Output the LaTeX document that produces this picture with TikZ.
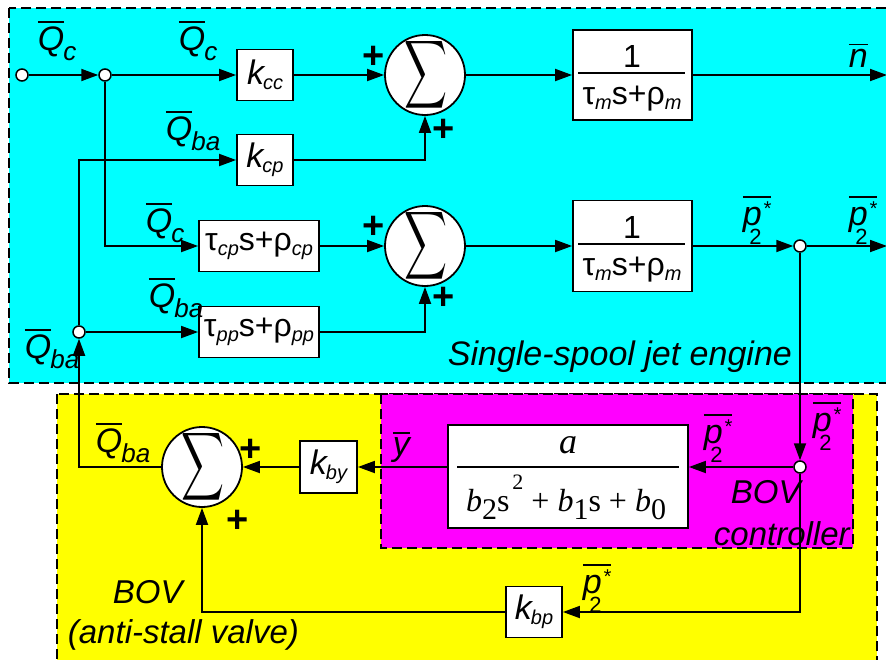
\documentclass[tikz,border=0pt]{standalone}
\usepackage{fontspec}
\setmainfont{Liberation Sans}
\newfontfamily\tnr{Liberation Serif}
\usetikzlibrary{arrows.meta}
\definecolor{cyanc}{RGB}{0,255,255}
\definecolor{yellowc}{RGB}{255,255,0}
\definecolor{magc}{RGB}{255,0,255}
\newcommand\szL{\fontsize{34}{36}\selectfont}
\newcommand\szT{\fontsize{32}{34}\selectfont}
\newcommand\szS{\fontsize{20}{22}\selectfont}
\newcommand\szQ{\fontsize{26}{28}\selectfont}
\newcommand\ovl[1]{\leavevmode\vbox{\hrule height 1.4pt\kern 3.5pt\hbox{#1}}}
\newcommand\Qs[1]{\ovl{Q}\kern-1pt\raisebox{-10pt}{\szQ #1}}
\newcommand\Ps{\ovl{p\kern1pt\raisebox{10pt}{\fontsize{20}{20}\selectfont *}}\llap{\raisebox{-19pt}{\upshape\fontsize{22}{22}\selectfont 2}\kern9pt}}
\newcommand\ksub[2]{\textit{#1\kern-1pt\raisebox{-5pt}{\szS #2}}}
\newcommand\tsub[1]{\raisebox{-5pt}{\szS\itshape #1}}
\newcommand\dsub[1]{\raisebox{-8pt}{\upshape\fontsize{30}{30}\selectfont #1}}
\newcommand\bigsum{\resizebox{43pt}{50pt}{$\displaystyle\sum$}}
\begin{document}
\begin{tikzpicture}[x=1pt,y=-1pt,line width=1.8pt,
  >={Triangle[length=17pt,width=12pt]},
  box/.style={draw,fill=white,minimum width=56pt,minimum height=51pt,inner sep=0pt,font=\szL},
  jn/.style={circle,draw,fill=white,minimum size=12pt,inner sep=0pt,line width=1.5pt},
  sumc/.style={circle,draw,fill=white,minimum size=80pt,inner sep=0pt},
  sig/.style={inner sep=0pt},
  lab/.style={inner sep=0pt,font=\szL\itshape,anchor=base west},
  txt/.style={inner sep=0pt,font=\fontsize{33}{35}\selectfont\itshape,anchor=base west},
  plus/.style={inner sep=0pt,font=\fontsize{38}{38}\selectfont\bfseries},
  frac/.style={inner sep=0pt,anchor=base},
  region/.style={draw,dash pattern=on 10pt off 5pt,line width=1.8pt},
  bar/.style={line width=1.6pt}]
\useasboundingbox (0,0) rectangle (886,659);
% regions
\path[region,fill=cyanc] (9,8) rectangle (905,383);
\path[region,fill=yellowc] (57,394) rectangle (877,675);
\path[region,fill=magc] (381,394) rectangle (853,548);
% row 1
\node[jn] (in) at (22,75) {};
\node[jn] (j1) at (105,75) {};
\node[box] (kcc) at (265,75) {\ksub{k}{cc}};
\node[sumc] (s1) at (425,75) {};
\node[sig] (s1g) at ([xshift=1pt]s1.center) {\bigsum};
\node[box,minimum width=119pt,minimum height=90pt] (tf1) at (632.5,75) {};
\draw[bar] (578,73) -- (685,73);
\node[frac,font=\szT] (tf1n) at (632,67) {1};
\node[frac,font=\szT] (tf1d) at (632,104) {τ\tsub{m}s+ρ\tsub{m}};
\coordinate (nout) at (887,75);
% k_cp row
\node[box] (kcp) at (265,160) {\ksub{k}{cp}};
% row 2
\node[box,minimum width=120pt] (cp) at (259,246) {\szT τ\tsub{cp}s+ρ\tsub{cp}};
\node[sumc] (s2) at (425,246) {};
\node[sig] (s2g) at ([xshift=1pt]s2.center) {\bigsum};
\node[box,minimum width=119pt,minimum height=91pt] (tf2) at (632.5,246) {};
\draw[bar] (578,244) -- (685,244);
\node[frac,font=\szT] (tf2n) at (632,238) {1};
\node[frac,font=\szT] (tf2d) at (632,275) {τ\tsub{m}s+ρ\tsub{m}};
\node[jn] (j2) at (800,246) {};
\coordinate (pout) at (887,246);
% row 3
\node[jn] (j3) at (79,332) {};
\node[box,minimum width=120pt] (pp) at (259,332) {\szT τ\tsub{pp}s+ρ\tsub{pp}};
% bottom
\node[jn] (jc) at (800,467) {};
\node[box,minimum width=240pt,minimum height=103pt] (tf3) at (568,476.5) {};
\draw[bar] (457,467) -- (679,467);
\node[frac,font=\tnr\fontsize{36}{38}\selectfont\itshape] (tf3n) at (568,453) {a};
\node[frac,font=\tnr\fontsize{32}{34}\selectfont] (tf3d) at (566,511) {\textit{b}\dsub{2}s\kern3pt\raisebox{22pt}{\fontsize{22}{22}\selectfont 2} + \textit{b}\dsub{1}s + \textit{b}\dsub{0}};
\node[box,minimum width=57pt,minimum height=52pt] (kby) at (328.5,467) {\ksub{k}{by}};
\node[sumc] (s3) at (202,467) {};
\node[sig] (s3g) at ([xshift=1pt]s3.center) {\bigsum};
\node[box] (kbp) at (534,612) {\ksub{k}{bp}};
% connectors
\draw[->] (in) -- (j1);
\draw[->] (j1) -- (kcc);
\draw[->] (kcc) -- (s1);
\draw[->] (s1) -- (tf1);
\draw[->] (tf1) -- (nout);
\draw[->] (j3) |- (kcp);
\draw[->] (kcp) -| (s1);
\draw[->] (j1) |- (cp);
\draw[->] (cp) -- (s2);
\draw[->] (s2) -- (tf2);
\draw[->] (tf2) -- (j2);
\draw[->] (j2) -- (pout);
\draw[->] (j3) -- (pp);
\draw[->] (pp) -| (s2);
\draw[->] (j2) -- (jc);
\draw[->] (jc) -- (tf3.east |- jc);
\draw[->] (tf3.west |- jc) -- (kby);
\draw[->] (kby) -- (s3);
\draw[->] (s3) -| (j3);
\draw[->] (jc) |- (kbp);
\draw[->] (kbp) -| (s3);
% plus signs
\node[plus] (p1a) at (374,57) {+};
\node[plus] (p1b) at (444,130) {+};
\node[plus] (p2a) at (374,227) {+};
\node[plus] (p2b) at (444,298) {+};
\node[plus] (p3a) at (251,450) {+};
\node[plus] (p3b) at (238,521) {+};
% labels
\node[lab] (lq1) at (37,50) {\Qs{c}};
\node[lab] (lq2) at (178,50) {\Qs{c}};
\node[lab] (lq3) at (165,140) {\Qs{ba}};
\node[lab] (lq4) at (145,232) {\Qs{c}};
\node[lab] (lq5) at (148,307) {\Qs{ba}};
\node[lab] (lq6) at (24,358) {\Qs{ba}};
\node[lab] (lq7) at (95,452) {\Qs{ba}};
\node[lab] (ln) at (848,67) {\ovl{n}};
\node[lab] (ly) at (392,455) {\ovl{y}};
\node[lab] (lp1) at (742,225) {\Ps};
\node[lab] (lp2) at (848,225) {\Ps};
\node[lab] (lp3) at (703,443) {\Ps};
\node[lab] (lp4) at (812,431) {\Ps};
\node[lab] (lp5) at (582,593) {\Ps};
% texts
\node[txt,font=\fontsize{34}{36}\selectfont\itshape] (eng) at (447,365) {Single-spool jet engine};
\node[txt] (bovc1) at (730,503) {BOV};
\node[txt] (bovc2) at (713,545) {controller};
\node[txt] (bov1) at (112,603) {BOV};
\node[txt] (bov2) at (67,643) {(anti-stall valve)};
\end{tikzpicture}
\end{document}
